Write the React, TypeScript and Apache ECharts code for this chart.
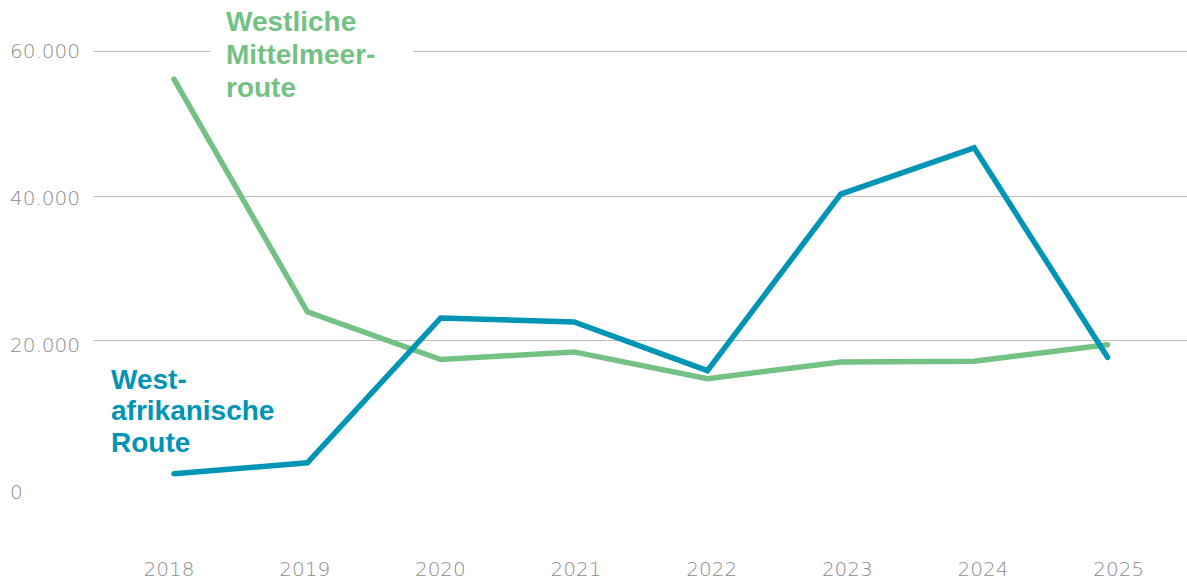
import React, { useEffect, useRef } from "react";
import * as echarts from "echarts";

const years = ["2018", "2019", "2020", "2021", "2022", "2023", "2024", "2025"];
const westlicheMittelmeer = [56200, 24000, 17400, 18450, 14750, 17050, 17150, 19450];
const westafrikanisch = [1600, 3100, 23150, 22600, 15850, 40300, 46700, 17700];
const yTickLabels = ["0", "20.000", "40.000", "60.000"];
const greenLabelLines = ["Westliche", "Mittelmeer-", "route"];
const blueLabelLines = ["West-", "afrikanische", "Route"];

const GREEN = "#74c184";
const BLUE = "#0094b5";
const GREY_TEXT = "#8c8c8c";
const GRID_LINE = "#bdbdbd";
const FONT = "'Liberation Sans', Arial, sans-serif";
const AXIS_FONT = "'DejaVu Sans', 'Open Sans', sans-serif";

export default function App() {
  const ref = useRef<HTMLDivElement>(null);
  useEffect(() => {
    if (!ref.current) return;
    const chart = echarts.init(ref.current, null, { renderer: "svg" });
    const yRange = { min: 0, max: 60000, interval: 20000 };
    const labelLines = (lines: string[], x: number, y0: number, step: number, color: string) =>
      lines.map((t, i) => ({
        type: "text",
        z: 5,
        x,
        y: y0 + i * step,
        style: {
          text: t,
          fill: color,
          fontSize: 28,
          fontWeight: "bold",
          fontFamily: FONT,
          verticalAlign: "middle",
        },
      }));
    chart.setOption({
      animation: false,
      backgroundColor: "#ffffff",
      grid: [
        { left: 107.3, width: 1066.9, top: 51.7, height: 433.5 },
        { left: 94, right: 0, top: 51.7, height: 433.5 },
        { left: 94, right: 0, top: 50.5, height: 441 },
        { left: 101.2, width: 1085.3, top: 480, height: 20 },
      ],
      xAxis: [
        { gridIndex: 0, type: "category", data: years, boundaryGap: true, show: false },
        { gridIndex: 1, type: "category", data: years, show: false },
        { gridIndex: 2, type: "category", data: years, show: false },
        {
          gridIndex: 3,
          type: "category",
          data: years,
          boundaryGap: true,
          axisLine: { show: false },
          axisTick: { show: false },
          splitLine: { show: false },
          axisLabel: {
            margin: 59,
            color: GREY_TEXT,
            fontSize: 20,
            lineHeight: 20,
            fontFamily: AXIS_FONT,
            fontWeight: 300,
          },
        },
      ],
      yAxis: [
        { gridIndex: 0, type: "value", ...yRange, show: false },
        {
          gridIndex: 1,
          type: "value",
          ...yRange,
          axisLine: { show: false },
          axisTick: { show: false },
          axisLabel: { show: false },
          splitLine: {
            show: true,
            lineStyle: { color: ["rgba(0,0,0,0)", GRID_LINE, GRID_LINE, GRID_LINE], width: 1 },
          },
        },
        {
          gridIndex: 2,
          type: "value",
          ...yRange,
          axisLine: { show: false },
          axisTick: { show: false },
          splitLine: { show: false },
          axisLabel: {
            align: "left",
            margin: 84,
            color: GREY_TEXT,
            fontSize: 20,
            fontFamily: AXIS_FONT,
            fontWeight: 300,
            formatter: (_v: number, idx: number) => yTickLabels[idx],
          },
        },
        { gridIndex: 3, type: "value", show: false },
      ],
      graphic: [
        {
          type: "rect",
          z: 1,
          shape: { x: 210, y: 44, width: 203, height: 14 },
          style: { fill: "#ffffff" },
        },
        ...labelLines(greenLabelLines, 226, 21.5, 33, GREEN),
        ...labelLines(blueLabelLines, 111, 379, 31.5, BLUE),
      ],
      series: [
        {
          type: "line",
          name: "Westliche Mittelmeerroute",
          xAxisIndex: 0,
          yAxisIndex: 0,
          data: westlicheMittelmeer,
          showSymbol: false,
          symbol: "none",
          lineStyle: { color: GREEN, width: 5.5, cap: "round", join: "miter" },
          z: 3,
        },
        {
          type: "line",
          name: "Westafrikanische Route",
          xAxisIndex: 0,
          yAxisIndex: 0,
          data: westafrikanisch,
          showSymbol: false,
          symbol: "none",
          lineStyle: { color: BLUE, width: 5.5, cap: "round", join: "miter" },
          z: 4,
        },
      ],
    });
    return () => chart.dispose();
  }, []);
  return (
    <div
      ref={ref}
      style={{ position: "fixed", left: 0, top: 0, width: 1187, height: 580, background: "#fff" }}
    />
  );
}
